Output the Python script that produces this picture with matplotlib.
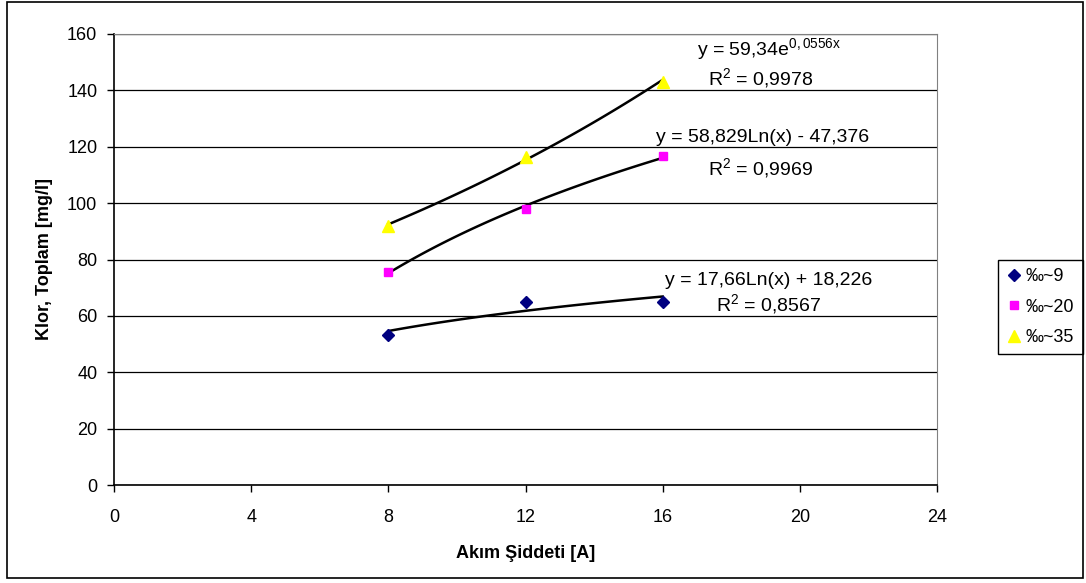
import numpy as np
import matplotlib
matplotlib.use("Agg")
import matplotlib.pyplot as plt
from matplotlib.patches import Rectangle

plt.rcParams["font.family"] = ["Liberation Sans", "DejaVu Sans"]
plt.rcParams["mathtext.fontset"] = "custom"
plt.rcParams["mathtext.rm"] = "Liberation Sans"
plt.rcParams["mathtext.it"] = "Liberation Sans"

# Daten
akim = [8, 12, 16]
klor_9 = [53.3, 65.0, 65.0]
klor_20 = [75.6, 98.0, 116.7]
klor_35 = [92.0, 116.5, 143.0]
etiketler = ["‰~9", "‰~20", "‰~35"]
x_ticks = [0, 4, 8, 12, 16, 20, 24]
y_ticks = [0, 20, 40, 60, 80, 100, 120, 140, 160]

fig = plt.figure(figsize=(10.86, 5.83), dpi=100)
ax = fig.add_axes([114 / 1086, 1 - 485 / 583, (937 - 114) / 1086, (485 - 34) / 583])

# Rahmen um die ganze Grafik
fig.patches.append(Rectangle((7 / 1086, 5 / 583), 1076 / 1086, 576 / 583,
                             transform=fig.transFigure, fill=False,
                             edgecolor="black", linewidth=1.2))

x = np.array(akim, dtype=float)
xs = np.linspace(8, 16, 100)

# Trendlinien (log bzw. exp)
b9 = np.polyfit(np.log(x), klor_9, 1)
b20 = np.polyfit(np.log(x), klor_20, 1)
b35 = np.polyfit(x, np.log(klor_35), 1)
ax.plot(xs, np.polyval(b9, np.log(xs)), color="black", lw=1.8, zorder=2)
ax.plot(xs, np.polyval(b20, np.log(xs)), color="black", lw=1.8, zorder=2)
ax.plot(xs, np.exp(np.polyval(b35, xs)), color="black", lw=1.8, zorder=2)

ax.plot(akim, klor_9, "D", color="#000080", ms=6, ls="none", label=etiketler[0], zorder=3)
ax.plot(akim, klor_20, "s", color="#ff00ff", ms=6, ls="none", label=etiketler[1], zorder=3)
ax.plot(akim, klor_35, "^", color="#ffff00", ms=8, ls="none", label=etiketler[2], zorder=3)

fs = 14
ax.text(19.1, 154.5, "y = 59,34e$^{0,0556x}$", ha="center", va="center", fontsize=fs)
ax.text(18.85, 144.3, "R$^2$ = 0,9978", ha="center", va="center", fontsize=fs)
ax.text(18.9, 123.4, "y = 58,829Ln(x) - 47,376", ha="center", va="center", fontsize=fs)
ax.text(18.85, 112.6, "R$^2$ = 0,9969", ha="center", va="center", fontsize=fs)
ax.text(19.1, 72.7, "y = 17,66Ln(x) + 18,226", ha="center", va="center", fontsize=fs)
ax.text(19.1, 64.2, "R$^2$ = 0,8567", ha="center", va="center", fontsize=fs)

ax.set_xlim(0, 24)
ax.set_ylim(0, 160)
ax.set_xticks(x_ticks)
ax.set_yticks(y_ticks)
ax.tick_params(direction="out", length=5, width=1, labelsize=13, colors="black")
ax.tick_params(axis="x", pad=12)
ax.tick_params(axis="y", pad=7)
ax.grid(axis="y", color="black", lw=0.9)
ax.set_axisbelow(True)
for s in ["top", "right"]:
    ax.spines[s].set_color("#808080")
for s in ["left", "bottom"]:
    ax.spines[s].set_color("black")
    ax.spines[s].set_linewidth(1.2)

ax.set_xlabel("Akım Şiddeti [A]", fontsize=13, fontweight="bold", labelpad=14)
ax.set_ylabel("Klor, Toplam [mg/l]", fontsize=13, fontweight="bold", labelpad=10)

leg = ax.legend(loc="upper left", bbox_to_anchor=(998 / 1086, 1 - 260 / 583),
                bbox_transform=fig.transFigure, borderaxespad=0, fontsize=13,
                fancybox=False, edgecolor="black", framealpha=1,
                handletextpad=0.2, handlelength=0.9, borderpad=0.45, labelspacing=0.75)
leg.get_frame().set_linewidth(1.0)

plt.savefig("out.png", dpi=100)
